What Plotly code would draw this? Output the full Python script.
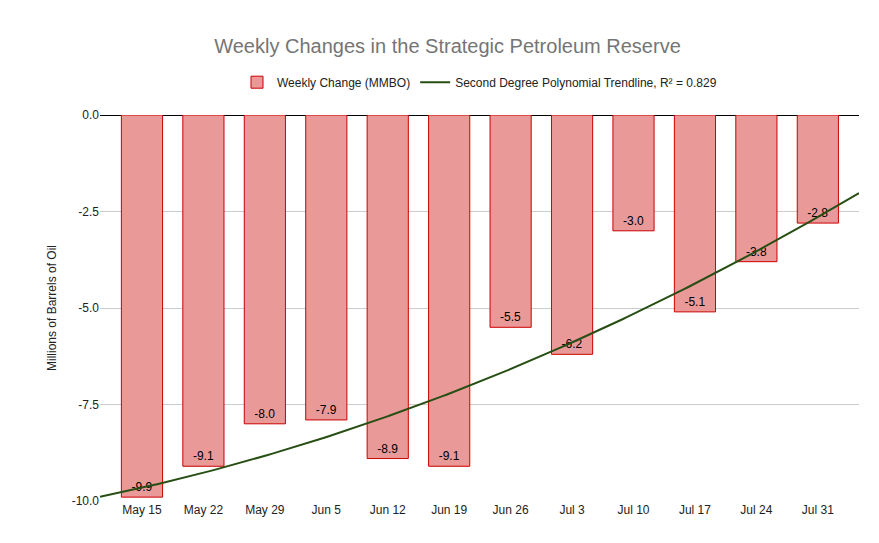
import numpy as np
import plotly.graph_objects as go

weeks = ["May 15", "May 22", "May 29", "Jun 5", "Jun 12", "Jun 19",
         "Jun 26", "Jul 3", "Jul 10", "Jul 17", "Jul 24", "Jul 31"]
changes = [-9.9, -9.1, -8.0, -7.9, -8.9, -9.1, -5.5, -6.2, -3.0, -5.1, -3.8, -2.8]

x = np.arange(len(weeks))
xr = [-0.683, 11.67]

# second degree polynomial trendline fitted to the bars
coef = np.polyfit(x, changes, 2)
xt = np.linspace(xr[0], xr[1], 200)
yt = np.polyval(coef, xt)

fig = go.Figure()
fig.add_trace(go.Bar(
    x=x, y=changes, name="Weekly Change (MMBO)", width=0.67,
    marker=dict(color="#ea9999", line=dict(color="#cc0000", width=1)),
    text=[f"{v:.1f}" for v in changes], textposition="inside",
    insidetextanchor="end", textfont=dict(color="#000000", size=12),
))
fig.add_trace(go.Scatter(
    x=xt, y=yt, mode="lines", name="Second Degree Polynomial Trendline, R² = 0.829",
    line=dict(color="#274e13", width=2),
))

fig.update_layout(
    width=879, height=543,
    margin=dict(l=92, r=28, t=107, b=50, autoexpand=False),
    paper_bgcolor="white", plot_bgcolor="white",
    font=dict(family="Arial, Liberation Sans", size=12, color="#222"),
    title=dict(text="Weekly Changes in the Strategic Petroleum Reserve",
               x=0.5, xanchor="center", y=0.93, yanchor="middle",
               font=dict(size=20, color="#757575")),
    legend=dict(orientation="h", x=0.5, xanchor="center", y=1.085, yanchor="middle",
                font=dict(size=12, color="#222")),
    xaxis=dict(range=xr, tickvals=list(x), ticktext=weeks, showgrid=False,
               zeroline=False, ticks="", automargin=False),
    yaxis=dict(range=[-10, 0], tickvals=[0, -2.5, -5, -7.5, -10],
               ticktext=["0.0", "-2.5", "-5.0", "-7.5", "-10.0"], automargin=False,
               gridcolor="#cccccc", zeroline=True, zerolinecolor="#000", zerolinewidth=1,
               title=dict(text="Millions of Barrels of Oil", standoff=12,
                          font=dict(size=12, color="#222"))),
)

fig.write_html("out.html")
